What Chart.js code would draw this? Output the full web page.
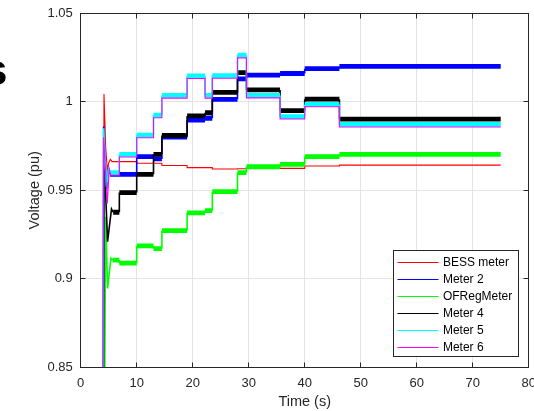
<!DOCTYPE html>
<html><head><meta charset="utf-8">
<script src="https://cdn.jsdelivr.net/npm/chart.js@4.4.0/dist/chart.umd.min.js"></script>
<style>html,body{margin:0;padding:0;background:#fff;overflow:hidden}#wrap{position:relative;width:534px;height:411px}</style>
</head><body><div id="wrap"><canvas id="c"></canvas></div>
<script>
// ---- data ----
const seriesNames = ['BESS meter', 'Meter 2', 'OFRegMeter', 'Meter 4', 'Meter 5', 'Meter 6'];
const seriesColors = ['#ff0000', '#0000ff', '#00ff00', '#000000', '#00ffff', '#ff00ff'];
const seriesThick = [false, true, true, true, true, false];

// switching instants (s) where the step levels change, and the end of the run
const stepTimes = [6.9, 10, 13, 14.5, 19, 22.2, 23.5, 28, 29.6, 35.6, 40, 46.2];
const endTime = 75;

// start-up transients (time, voltage)
const besTransT = [3.7, 4.16, 4.45, 4.75, 5.0, 5.3, 5.6, 6.0];
const besTransV = [0.5, 1.0044, 0.975, 0.9615, 0.9655, 0.9675, 0.9662, 0.9662];
const m2TransT = [3.7, 4.1, 4.6, 5.0, 5.25];
const m2TransV = [0.5, 0.986, 0.950, 0.962, 0.959];
const ofTransT = [3.7, 4.45, 4.8, 5.4, 5.7];
const ofTransV = [0.5, 0.935, 0.8946, 0.9116, 0.9106];
const m4TransT = [3.7, 4.2, 4.8, 5.1, 5.5, 5.8];
const m4TransV = [0.5, 0.968, 0.921, 0.929, 0.9395, 0.9376];
const m5TransT = [3.7, 4.1, 4.6, 5.0, 5.25];
const m5TransV = [0.5, 0.985, 0.952, 0.962, 0.960];
const m6TransT = [3.7, 4.1, 4.75, 5.1, 5.35];
const m6TransV = [0.5, 0.980, 0.9426, 0.962, 0.9585];

// voltage level held after each switching instant (pu)
const besLevels = [0.9662, 0.9653, 0.9653, 0.9640, 0.9628, 0.9628, 0.9620, 0.9622, 0.9626, 0.9624, 0.9637, 0.9642];
const m2Levels  = [0.9590, 0.9690, 0.9677, 0.9800, 0.9897, 0.9907, 1.0014, 1.0129, 1.0151, 1.0160, 1.0187, 1.0200];
const ofLevels  = [0.9088, 0.9186, 0.9170, 0.9272, 0.9373, 0.9385, 0.9492, 0.9600, 0.9633, 0.9647, 0.9690, 0.9703];
const m4Levels  = [0.9487, 0.9590, 0.9703, 0.9810, 0.9920, 0.9938, 1.0053, 1.0165, 1.0067, 0.9950, 1.0015, 0.9902];
const m5Levels  = [0.9703, 0.9812, 0.9925, 1.0036, 1.0147, 1.0036, 1.0148, 1.0264, 1.0036, 0.9916, 0.9985, 0.9872];
const m6Levels  = [0.9688, 0.9797, 0.9910, 1.0021, 1.0132, 1.0021, 1.0133, 1.0248, 1.0022, 0.9903, 0.9972, 0.9858];

// axes
const xTicks = [0, 10, 20, 30, 40, 50, 60, 70, 80];
const xTickLabels = ['0', '10', '20', '30', '40', '50', '60', '70', '80'];
const yTicks = [0.85, 0.9, 0.95, 1, 1.05];
const yTickLabels = ['0.85', '0.9', '0.95', '1', '1.05'];

// ---- build ----
function buildPoints(tt, tv, levels) {
  const pts = tt.map((t, i) => ({ x: t, y: tv[i] }));
  let last = tv[tv.length - 1];
  levels.forEach((v, i) => {
    pts.push({ x: stepTimes[i], y: last });
    pts.push({ x: stepTimes[i], y: v });
    last = v;
  });
  pts.push({ x: endTime, y: last });
  return pts;
}
const seriesPoints = [
  buildPoints(besTransT, besTransV, besLevels),
  buildPoints(m2TransT, m2TransV, m2Levels),
  buildPoints(ofTransT, ofTransV, ofLevels),
  buildPoints(m4TransT, m4TransV, m4Levels),
  buildPoints(m5TransT, m5TransV, m5Levels),
  buildPoints(m6TransT, m6TransV, m6Levels)
];

const FONT = '"Liberation Sans", Arial, Helvetica, sans-serif';
const TXT = '#262626';

const datasets = seriesNames.map((name, i) => {
  const thick = seriesThick[i];
  const thinW = thick ? 1.6 : 1.1;
  return {
    label: name,
    data: seriesPoints[i],
    borderColor: seriesColors[i],
    backgroundColor: seriesColors[i],
    borderWidth: thinW,
    pointRadius: 0,
    fill: false,
    tension: 0,
    clip: 0,
    order: seriesNames.length - i,
    segment: {
      borderWidth: ctx => (thick && ctx.p0.parsed.y === ctx.p1.parsed.y) ? 4.8 : thinW
    }
  };
});

const framePlugin = {
  id: 'frame',
  afterDatasetsDraw(chart) {
    const { ctx, chartArea: a, scales } = chart;
    ctx.save();
    ctx.strokeStyle = TXT;
    ctx.lineWidth = 1;
    const L = Math.floor(a.left) + 0.5, R = Math.floor(a.right) + 0.5;
    const T = Math.floor(a.top) + 0.5, B = Math.floor(a.bottom) + 0.5;
    ctx.beginPath();
    xTicks.forEach(v => {
      const px = Math.floor(scales.x.getPixelForValue(v)) + 0.5;
      ctx.moveTo(px, B); ctx.lineTo(px, B - 5);
      ctx.moveTo(px, T); ctx.lineTo(px, T + 5);
    });
    yTicks.forEach(v => {
      const py = Math.floor(scales.y.getPixelForValue(v)) + 0.5;
      ctx.moveTo(L, py); ctx.lineTo(L + 5, py);
      ctx.moveTo(R, py); ctx.lineTo(R - 5, py);
    });
    ctx.stroke();
    ctx.strokeRect(L, T, R - L, B - T);
    ctx.restore();
  },
  afterDraw(chart) {
    const { ctx, chartArea: a } = chart;
    ctx.save();
    // legend
    const w = 125, h = 106;
    const lx = Math.floor(a.right - 10.4 - w) + 0.5;
    const ly = Math.floor(a.bottom - 10.6 - h) + 0.5;
    ctx.fillStyle = '#ffffff';
    ctx.fillRect(lx, ly, w, h);
    ctx.strokeStyle = TXT;
    ctx.lineWidth = 1;
    ctx.strokeRect(lx, ly, w, h);
    ctx.font = '12px ' + FONT;
    ctx.textBaseline = 'middle';
    ctx.textAlign = 'left';
    chart.data.datasets.forEach((ds, i) => {
      const y = Math.round(ly + 11 + i * 17) + 0.5;
      ctx.strokeStyle = ds.borderColor;
      ctx.lineWidth = 1;
      ctx.beginPath();
      ctx.moveTo(lx + 4, y); ctx.lineTo(lx + 45, y);
      ctx.stroke();
      ctx.fillStyle = '#000000';
      ctx.fillText(ds.label, lx + 49.4, y + 0.5);
    });
    // clipped fragment of neighbouring title
    ctx.fillStyle = '#000000';
    ctx.font = 'bold 44px ' + FONT;
    ctx.textBaseline = 'alphabetic';
    ctx.fillText('s', -17, 85);
    ctx.restore();
  }
};

new Chart(document.getElementById('c'), {
  type: 'line',
  data: { datasets },
  options: {
    responsive: true,
    maintainAspectRatio: false,
    animation: false,
    events: [],
    layout: { padding: { top: 13.3, right: 5.3, left: 0, bottom: 0 } },
    plugins: { legend: { display: false }, tooltip: { enabled: false }, title: { display: false } },
    scales: {
      x: {
        type: 'linear', min: 0, max: 80,
        afterBuildTicks: s => { s.ticks = xTicks.map(v => ({ value: v })); },
        ticks: {
          callback: v => xTickLabels[xTicks.indexOf(v)],
          font: { family: FONT, size: 13 }, color: TXT, padding: 8,
          maxRotation: 0, autoSkip: false
        },
        grid: { color: '#e4e4e4', lineWidth: 1, drawTicks: false },
        border: { display: false },
        title: { display: true, text: 'Time (s)', color: TXT, font: { family: FONT, size: 14.5 }, padding: { top: 0, bottom: 0.8 } },
        afterFit: s => { s.height = 43.7; s.paddingLeft = 0; s.paddingRight = 0; }
      },
      y: {
        type: 'linear', min: 0.85, max: 1.05,
        afterBuildTicks: s => { s.ticks = yTicks.map(v => ({ value: v })); },
        ticks: {
          callback: v => yTickLabels[yTicks.findIndex(t => Math.abs(t - v) < 1e-9)],
          font: { family: FONT, size: 13 }, color: TXT, padding: 8, autoSkip: false
        },
        grid: { color: '#e4e4e4', lineWidth: 1, drawTicks: false },
        border: { display: false },
        title: { display: true, text: 'Voltage (pu)', color: TXT, font: { family: FONT, size: 14.5 }, padding: { top: 25.8, bottom: 0 } },
        afterFit: s => { s.width = 80.7; s.paddingTop = 0; s.paddingBottom = 0; }
      }
    }
  },
  plugins: [framePlugin]
});
</script>
</body></html>
